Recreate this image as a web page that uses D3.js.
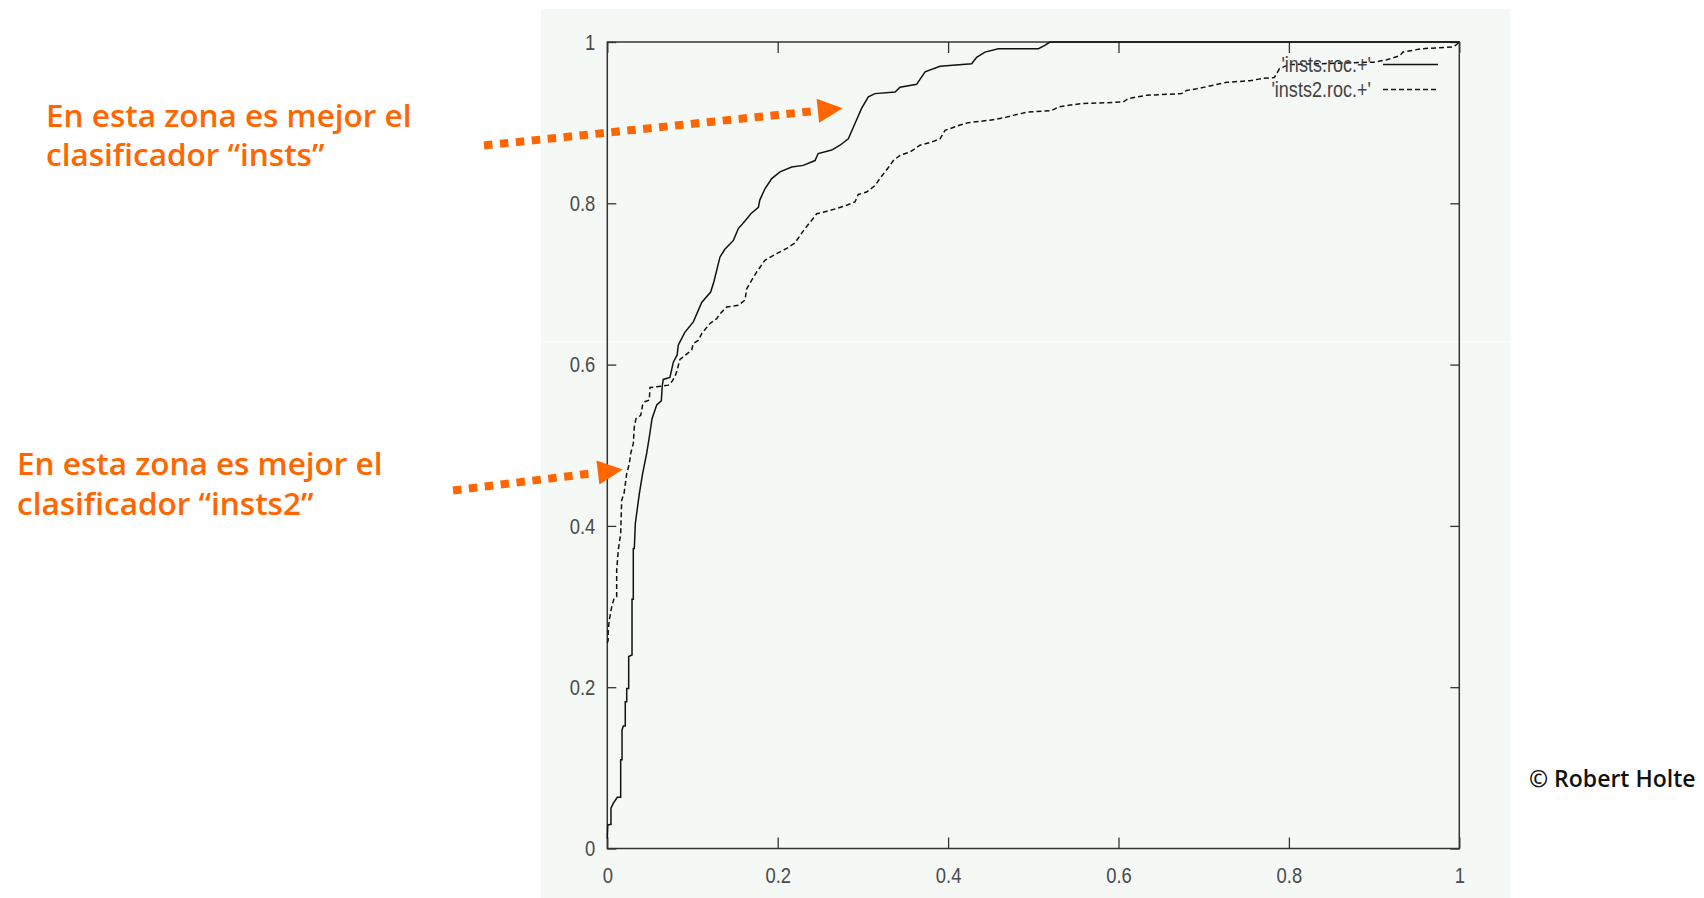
<!DOCTYPE html>
<html><head><meta charset="utf-8">
<script src="https://cdn.jsdelivr.net/npm/d3@7"></script>
<style>
html,body{margin:0;padding:0;background:#fff;overflow:hidden;}
svg{display:block;}
</style></head>
<body>
<script>
// ---------- DATA ----------
const instsFPR = [0,0.0005,0.0043,0.0043,0.007,0.0117,0.0157,0.0157,0.0173,0.0173,0.0188,0.0211,0.0211,0.0228,0.0228,0.0251,0.0251,0.029,0.029,0.0305,0.0305,0.0317,0.0329,0.0376,0.0415,0.0462,0.0493,0.0525,0.058,0.0634,0.0645,0.0657,0.0735,0.0775,0.082,0.0833,0.091,0.101,0.1108,0.1213,0.125,0.1323,0.138,0.148,0.1538,0.1616,0.1685,0.1773,0.179,0.185,0.193,0.2027,0.2164,0.230,0.2438,0.2475,0.2634,0.2731,0.2829,0.2907,0.2986,0.3064,0.3142,0.3378,0.3436,0.363,0.373,0.3905,0.4277,0.4335,0.4433,0.459,0.506,0.513,0.5196,1.0];
const instsTPR = [0.012,0.029,0.030,0.050,0.056,0.0635,0.0635,0.110,0.110,0.147,0.152,0.152,0.182,0.182,0.1985,0.1985,0.238,0.240,0.309,0.309,0.372,0.372,0.403,0.440,0.465,0.490,0.510,0.533,0.550,0.555,0.5735,0.5816,0.584,0.603,0.612,0.624,0.640,0.653,0.677,0.690,0.7025,0.7335,0.743,0.754,0.7687,0.778,0.787,0.795,0.804,0.818,0.8306,0.839,0.845,0.847,0.853,0.8617,0.866,0.872,0.880,0.899,0.918,0.932,0.936,0.938,0.944,0.9475,0.963,0.970,0.973,0.981,0.9875,0.9917,0.9917,0.9955,1.0,1.0];

const insts2FPR = [0,0.001,0.001,0.0023,0.0052,0.0079,0.011,0.011,0.0129,0.0157,0.0169,0.0196,0.0228,0.0258,0.0275,0.0305,0.0317,0.0337,0.0392,0.0415,0.0442,0.0493,0.0501,0.0638,0.0716,0.0756,0.0794,0.0814,0.0853,0.0892,0.0939,0.099,0.1009,0.1068,0.1108,0.1206,0.1284,0.1323,0.1401,0.1538,0.1616,0.1636,0.1695,0.1754,0.185,0.1988,0.2106,0.2203,0.2262,0.232,0.2399,0.2458,0.2535,0.2692,0.281,0.2907,0.2946,0.3044,0.3142,0.3201,0.326,0.3318,0.3357,0.3436,0.3553,0.367,0.3808,0.3905,0.3964,0.414,0.4237,0.449,0.4648,0.4765,0.4922,0.5216,0.5294,0.5548,0.6056,0.6115,0.6331,0.6742,0.680,0.6918,0.727,0.7543,0.77,0.783,0.789,0.80,0.90,0.915,0.93,0.934,0.956,0.993,0.997,1.0];
const insts2TPR = [0.255,0.258,0.269,0.283,0.300,0.310,0.312,0.345,0.370,0.3907,0.432,0.440,0.465,0.477,0.490,0.502,0.523,0.533,0.537,0.550,0.554,0.556,0.5716,0.5733,0.5745,0.5786,0.585,0.591,0.6065,0.6096,0.6137,0.618,0.626,0.630,0.6385,0.651,0.657,0.663,0.6715,0.6735,0.680,0.694,0.7046,0.715,0.7294,0.7377,0.744,0.751,0.760,0.7687,0.779,0.787,0.789,0.7935,0.7976,0.8017,0.811,0.814,0.822,0.831,0.839,0.847,0.853,0.8595,0.8637,0.872,0.876,0.880,0.8905,0.897,0.900,0.903,0.906,0.909,0.913,0.915,0.9194,0.9235,0.9256,0.9298,0.934,0.936,0.940,0.942,0.950,0.952,0.955,0.956,0.967,0.972,0.975,0.978,0.983,0.9876,0.9917,0.9938,0.997,1.0];

const seriesNames = ["'insts.roc.+'", "'insts2.roc.+'"];
const xTickValues = [0, 0.2, 0.4, 0.6, 0.8, 1];
const xTickLabels = ["0", "0.2", "0.4", "0.6", "0.8", "1"];
const yTickValues = [0, 0.2, 0.4, 0.6, 0.8, 1];
const yTickLabels = ["0", "0.2", "0.4", "0.6", "0.8", "1"];
const noteInstsLines = ["En esta zona es mejor el", "clasificador \u201Cinsts\u201D"];
const noteInsts2Lines = ["En esta zona es mejor el", "clasificador \u201Cinsts2\u201D"];
const creditText = "\u00A9 Robert Holte";

// ---------- LAYOUT ----------
const W = 1704, H = 898;
const svg = d3.select("body").append("svg").attr("width", W).attr("height", H);

svg.append("rect").attr("x", 541).attr("y", 9).attr("width", 969).attr("height", 889).attr("fill", "#f5f9f6");
svg.append("rect").attr("x", 541).attr("y", 341).attr("width", 969).attr("height", 1).attr("fill", "#fcfefd");

const x = d3.scaleLinear().domain([0, 1]).range([607.3, 1459.3]);
const y = d3.scaleLinear().domain([0, 1]).range([848.5, 42]);

const axisColor = "#333";
const tickFont = "'Liberation Sans',Arial,sans-serif";
const narrow = 0.82;

function styleAxis(g) {
  g.select(".domain").remove();
  g.selectAll(".tick line").attr("stroke", axisColor).attr("stroke-width", 1.3);
  g.selectAll(".tick text").attr("fill", "#4a4a4a").attr("font-family", tickFont).attr("font-size", 22.5)
    .each(function () {
      const t = d3.select(this);
      const xa = +t.attr("x") || 0;
      t.attr("x", xa / narrow).attr("transform", `scale(${narrow},1)`);
    });
}

svg.append("g").attr("transform", `translate(0,${y(0)})`)
  .call(d3.axisBottom(x).tickValues(xTickValues).tickFormat((d, i) => xTickLabels[i]).tickSizeInner(-11).tickSizeOuter(0).tickPadding(19))
  .call(styleAxis);
svg.append("g").attr("transform", `translate(0,${y(1)})`)
  .call(d3.axisTop(x).tickValues(xTickValues).tickFormat("").tickSizeInner(-11).tickSizeOuter(0))
  .call(styleAxis);
svg.append("g").attr("transform", `translate(${x(0)},0)`)
  .call(d3.axisLeft(y).tickValues(yTickValues).tickFormat((d, i) => yTickLabels[i]).tickSizeInner(-9).tickSizeOuter(0).tickPadding(12))
  .call(styleAxis);
svg.append("g").attr("transform", `translate(${x(1)},0)`)
  .call(d3.axisRight(y).tickValues(yTickValues).tickFormat("").tickSizeInner(-9).tickSizeOuter(0))
  .call(styleAxis);

svg.append("rect").attr("x", x(0)).attr("y", y(1)).attr("width", x(1) - x(0)).attr("height", y(0) - y(1))
  .attr("fill", "none").attr("stroke", axisColor).attr("stroke-width", 1.5);

// ---------- CURVES ----------
const line = d3.line().x(d => x(d[0])).y(d => y(d[1]));
const s1 = instsFPR.map((v, i) => [v, instsTPR[i]]);
const s2 = insts2FPR.map((v, i) => [v, insts2TPR[i]]);

svg.append("path").datum(s2).attr("d", line).attr("fill", "none").attr("stroke", "#111")
  .attr("stroke-width", 1.5).attr("stroke-dasharray", "5,3");
svg.append("path").datum(s1).attr("d", line).attr("fill", "none").attr("stroke", "#111")
  .attr("stroke-width", 1.5);

// ---------- LEGEND ----------
const legend = svg.append("g");
[0, 1].forEach(i => {
  const by = 72 + i * 25;
  legend.append("text").attr("x", 1371 / narrow).attr("y", by).attr("text-anchor", "end")
    .attr("transform", `scale(${narrow},1)`)
    .attr("font-family", tickFont).attr("font-size", 22).attr("fill", "#444").text(seriesNames[i]);
  legend.append("line").attr("x1", 1383).attr("x2", 1438).attr("y1", by - 7.5).attr("y2", by - 7.5)
    .attr("stroke", "#111").attr("stroke-width", 1.4).attr("stroke-dasharray", i ? "5,3" : null);
});

// ---------- ANNOTATIONS ----------
const orange = "#ff6600";
const annFont = "'Open Sans','Noto Sans',sans-serif";
function note(lines, x0, y0) {
  const t = svg.append("text").attr("font-family", annFont).attr("font-size", 31.5)
    .attr("font-weight", 600).attr("fill", orange);
  lines.forEach((l, i) => t.append("tspan").attr("x", x0).attr("y", y0 + i * 39.5).text(l));
}
note(noteInstsLines, 46, 126.7);
note(noteInsts2Lines, 17, 475);

const arrows = [
  { from: [-0.1447, 0.8717], to: [0.2763, 0.918] },
  { from: [-0.1811, 0.4439], to: [0.0181, 0.470] }
];
arrows.forEach(a => {
  const x1 = x(a.from[0]), y1 = y(a.from[1]), x2 = x(a.to[0]), y2 = y(a.to[1]);
  const L = Math.hypot(x2 - x1, y2 - y1), ux = (x2 - x1) / L, uy = (y2 - y1) / L;
  const hl = 25, hw = 12;
  const bx = x2 - hl * ux, by = y2 - hl * uy;
  svg.append("line").attr("x1", x1).attr("y1", y1).attr("x2", bx - 3 * ux).attr("y2", by - 3 * uy)
    .attr("stroke", orange).attr("stroke-width", 8).attr("stroke-dasharray", "8.5,7.5");
  svg.append("path").attr("d", `M${x2},${y2}L${bx - hw * uy},${by + hw * ux}L${bx + hw * uy},${by - hw * ux}Z`)
    .attr("fill", orange);
});

// ---------- CREDIT ----------
svg.append("text").attr("x", 1529).attr("y", 786.7).attr("font-family", annFont).attr("font-size", 23)
  .attr("font-weight", 600).attr("fill", "#111").text(creditText);
</script>
</body></html>
